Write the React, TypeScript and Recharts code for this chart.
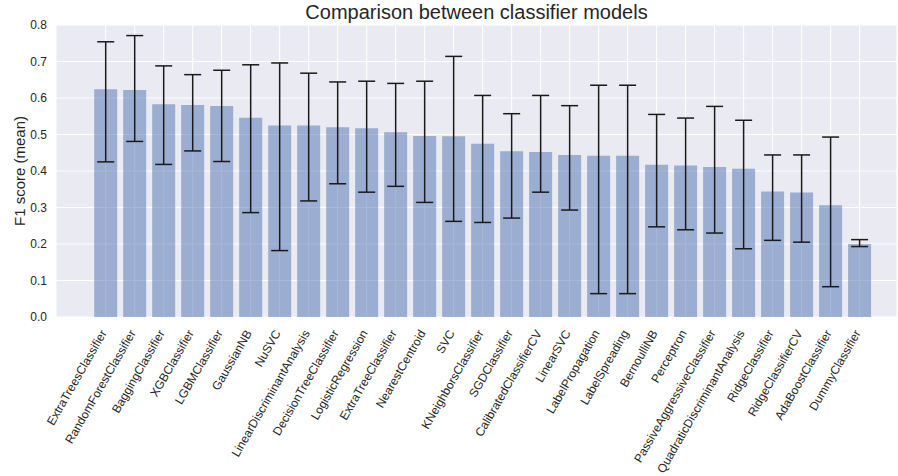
import React from 'react';
import { BarChart, Bar, XAxis, YAxis, CartesianGrid, ErrorBar } from 'recharts';

const names = [
  'ExtraTreesClassifier', 'RandomForestClassifier', 'BaggingClassifier', 'XGBClassifier',
  'LGBMClassifier', 'GaussianNB', 'NuSVC', 'LinearDiscriminantAnalysis',
  'DecisionTreeClassifier', 'LogisticRegression', 'ExtraTreeClassifier', 'NearestCentroid',
  'SVC', 'KNeighborsClassifier', 'SGDClassifier', 'CalibratedClassifierCV', 'LinearSVC',
  'LabelPropagation', 'LabelSpreading', 'BernoulliNB', 'Perceptron',
  'PassiveAggressiveClassifier', 'QuadraticDiscriminantAnalysis', 'RidgeClassifier',
  'RidgeClassifierCV', 'AdaBoostClassifier', 'DummyClassifier',
];

const means = [
  0.624, 0.622, 0.583, 0.581, 0.578, 0.546, 0.525, 0.525, 0.520, 0.517, 0.506, 0.496,
  0.495, 0.475, 0.454, 0.452, 0.444, 0.442, 0.442, 0.417, 0.415, 0.411, 0.406, 0.344,
  0.341, 0.306, 0.200,
];

const lows = [
  0.425, 0.481, 0.418, 0.455, 0.426, 0.286, 0.182, 0.318, 0.365, 0.342, 0.358, 0.314,
  0.262, 0.259, 0.271, 0.342, 0.293, 0.064, 0.064, 0.247, 0.239, 0.230, 0.187, 0.210,
  0.205, 0.083, 0.193,
];

const highs = [
  0.754, 0.771, 0.688, 0.664, 0.676, 0.691, 0.696, 0.668, 0.644, 0.646, 0.640, 0.646,
  0.714, 0.607, 0.557, 0.607, 0.579, 0.635, 0.635, 0.555, 0.545, 0.577, 0.539, 0.444,
  0.444, 0.493, 0.212,
];

const yTicks = [0, 0.1, 0.2, 0.3, 0.4, 0.5, 0.6, 0.7, 0.8];

const data = names.map((name, i) => ({
  i,
  name,
  mean: means[i],
  err: [means[i] - lows[i], highs[i] - means[i]],
}));

const xTicks = names.map((_, i) => i);

const FONT = 'Liberation Sans, Arial, Helvetica, sans-serif';
const TEXT = '#262626';

const XTick = (props: any) => {
  const { x, y, payload } = props;
  const tx = x + 1.5;
  return (
    <text
      x={tx}
      y={y}
      transform={`rotate(-60 ${tx} ${y})`}
      textAnchor="end"
      fontSize={12}
      fill={TEXT}
      fontFamily={FONT}
    >
      {names[payload.value]}
    </text>
  );
};

const YLabel = () => (
  <text
    x={19}
    y={171}
    transform="rotate(-90 19 171)"
    textAnchor="middle"
    dominantBaseline="central"
    fontSize={15}
    fill={TEXT}
    fontFamily={FONT}
  >
    F1 score (mean)
  </text>
);

export default function App() {
  return (
    <div style={{ position: 'absolute', left: 0, top: 0, width: 898, height: 476, background: '#fff' }}>
      <div
        style={{
          position: 'absolute',
          left: 56,
          width: 841,
          top: 2,
          textAlign: 'center',
          fontFamily: FONT,
          fontSize: 20,
          lineHeight: '20px',
          color: TEXT,
        }}
      >
        Comparison between classifier models
      </div>
      <BarChart
        width={898}
        height={476}
        data={data}
        margin={{ top: 25, right: 1, bottom: 0, left: 0 }}
      >
        <CartesianGrid fill="#eaeaf2" stroke="#ffffff" strokeWidth={1} />
        <XAxis
          type="number"
          dataKey="i"
          domain={[-1.714, 27.29]}
          ticks={xTicks}
          interval={0}
          allowDataOverflow
          axisLine={false}
          tickLine={false}
          tickSize={0}
          tickMargin={16}
          height={159}
          tick={<XTick />}
        />
        <YAxis
          type="number"
          domain={[0, 0.8]}
          ticks={yTicks}
          interval={0}
          axisLine={false}
          tickLine={false}
          tickSize={0}
          tickMargin={9}
          width={56}
          tickFormatter={(v: number) => v.toFixed(1)}
          tick={{ fontSize: 12, fill: TEXT, fontFamily: FONT }}
          label={<YLabel />}
        />
        <Bar dataKey="mean" fill="#4c72b0" fillOpacity={0.5} barSize={23} isAnimationActive={false}>
          <ErrorBar dataKey="err" direction="y" width={8.5} stroke="#1a1a1a" strokeWidth={1.5} />
        </Bar>
      </BarChart>
    </div>
  );
}
